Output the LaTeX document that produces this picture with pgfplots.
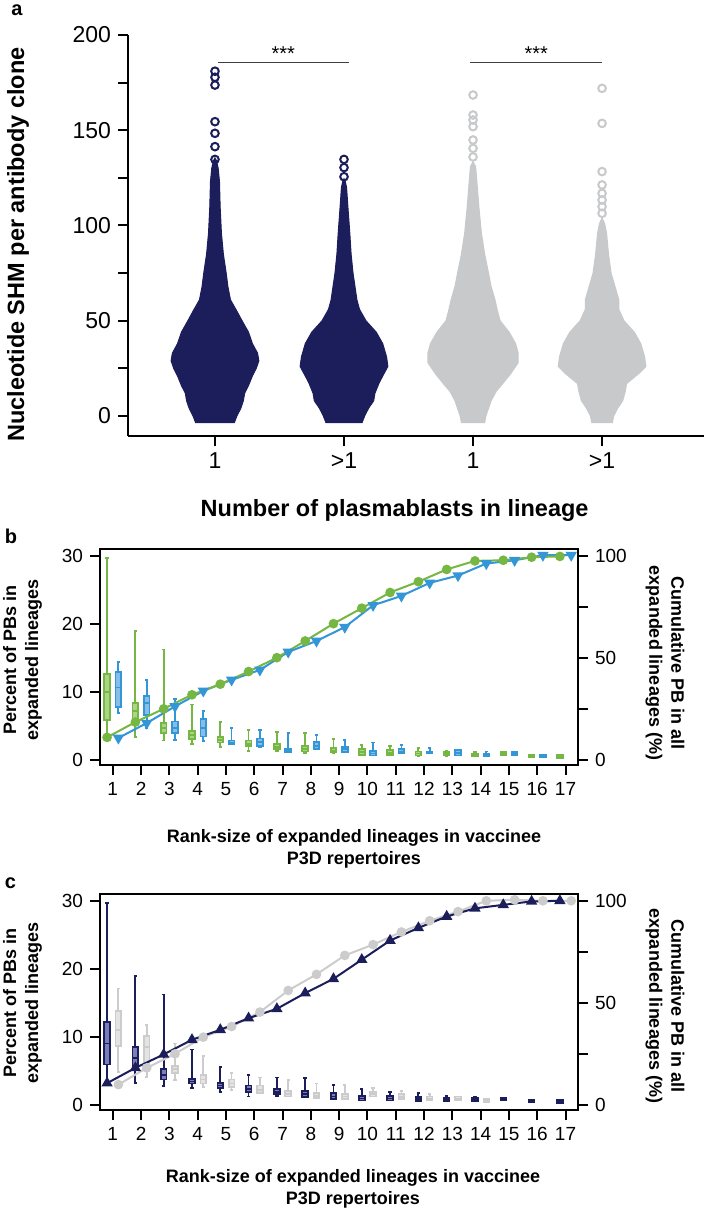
\documentclass[border=0pt]{standalone}
\usepackage{fontspec}
\setmainfont{Liberation Sans}
\usepackage{pgfplots}
\pgfplotsset{compat=1.18}
\usepgfplotslibrary{statistics}

\definecolor{navy}{RGB}{28,30,92}
\definecolor{navyl}{RGB}{122,127,182}
\definecolor{lgray}{RGB}{200,201,203}
\definecolor{cgray}{RGB}{204,204,204}
\definecolor{cgrayl}{RGB}{228,228,228}
\definecolor{grn}{RGB}{118,182,66}
\definecolor{grnl}{RGB}{170,212,135}
\definecolor{blu}{RGB}{51,150,214}
\definecolor{blul}{RGB}{135,190,232}

\pgfplotsset{
  base/.style={scale only axis, anchor=north west, tick align=outside,
    major tick length=5pt, minor tick length=5pt,
    tick style={black, line width=1pt}, axis line style={line width=1pt},
    /pgf/number format/assume math mode=true},
  rank/.style={base, width=239pt, height=108pt, xmin=0.55, xmax=17.44,
    tick label style={font=\fontsize{9.5}{11}\selectfont},
    boxplot/draw direction=y, boxplot/box extend=0.2, boxplot/whisker extend=0.12},
}

% box: style, position, low whisker, q1, median, q3, high whisker
\newcommand{\bx}[7]{\addplot[#1, line width=0.9pt, boxplot prepared={draw position=#2,
  lower whisker=#3, lower quartile=#4, median=#5, upper quartile=#6, upper whisker=#7}] coordinates {};}

\begin{document}
\begin{tikzpicture}
\useasboundingbox (0,0) rectangle (352pt,-605pt);

% ---------------- panel a
\begin{axis}[base, at={(64pt,-17.5pt)}, width=288pt, height=200.5pt,
  xmin=0.326, xmax=4.79, ymin=-10.5, ymax=200,
  axis x line*=bottom, axis y line*=left,
  xtick={1,2,3,4}, xticklabels={1,>1,1,>1},
  ytick={0,50,100,150,200}, minor ytick={25,75,125,175},
  tick label style={font=\fontsize{11.5}{13}\selectfont}]
\addplot[fill=navy, draw=navy, line width=0.5pt] coordinates {
  (1.15,-3.5) (1.17,0) (1.20,4) (1.22,8) (1.23,12) (1.26,16) (1.29,21) (1.32,25) (1.34,29)
  (1.33,33) (1.29,38) (1.26,44) (1.21,50) (1.17,55) (1.12,61) (1.10,68) (1.087,75) (1.065,85)
  (1.05,96) (1.04,110) (1.035,123) (1.025,130) (1.012,134) (1,135.5)
  (0.988,134) (0.975,130) (0.965,123) (0.96,110) (0.95,96) (0.935,85) (0.913,75) (0.90,68)
  (0.88,61) (0.83,55) (0.79,50) (0.74,44) (0.71,38) (0.67,33) (0.66,29) (0.68,25) (0.71,21)
  (0.74,16) (0.77,12) (0.78,8) (0.80,4) (0.83,0) (0.85,-3.5)} -- cycle;
\addplot[fill=navy, draw=navy, line width=0.5pt] coordinates {
  (2.14,-3.5) (2.16,0) (2.19,4) (2.23,8) (2.24,12) (2.27,17) (2.30,21) (2.34,26) (2.33,31)
  (2.30,38) (2.25,44) (2.17,50) (2.12,56) (2.10,61) (2.085,68) (2.07,75) (2.055,85) (2.045,96)
  (2.03,110) (2.02,120) (2.01,123) (2,124.5)
  (1.99,123) (1.98,120) (1.97,110) (1.955,96) (1.945,85) (1.93,75) (1.915,68) (1.90,61)
  (1.88,56) (1.83,50) (1.75,44) (1.70,38) (1.67,31) (1.66,26) (1.70,21) (1.73,17) (1.76,12)
  (1.77,8) (1.81,4) (1.84,0) (1.86,-3.5)} -- cycle;
\addplot[fill=lgray, draw=lgray, line width=0.5pt] coordinates {
  (3.09,-3.5) (3.10,0) (3.12,4) (3.14,8) (3.18,13) (3.23,17) (3.29,22) (3.35,28) (3.35,33)
  (3.33,38) (3.28,44) (3.21,50) (3.19,55) (3.17,61) (3.14,68) (3.12,75) (3.09,85) (3.065,96)
  (3.045,110) (3.03,123) (3.02,131) (3,133.5)
  (2.98,131) (2.97,123) (2.955,110) (2.935,96) (2.91,85) (2.88,75) (2.86,68) (2.83,61)
  (2.81,55) (2.79,50) (2.72,44) (2.67,38) (2.65,33) (2.65,28) (2.71,22) (2.77,17) (2.82,13)
  (2.86,8) (2.88,4) (2.90,0) (2.91,-3.5)} -- cycle;
\addplot[fill=lgray, draw=lgray, line width=0.5pt] coordinates {
  (4.08,-3.5) (4.09,0) (4.12,4) (4.16,8) (4.18,13) (4.19,17) (4.28,22) (4.34,26) (4.33,31)
  (4.30,38) (4.25,44) (4.17,50) (4.13,56) (4.13,61) (4.10,68) (4.07,75) (4.05,85) (4.035,96)
  (4.02,101) (4,104)
  (3.98,101) (3.965,96) (3.95,85) (3.93,75) (3.90,68) (3.87,61) (3.87,56) (3.83,50) (3.75,44)
  (3.70,38) (3.67,31) (3.66,26) (3.72,22) (3.81,17) (3.82,13) (3.84,8) (3.88,4) (3.91,0)
  (3.92,-3.5)} -- cycle;
% outliers
\addplot[only marks, mark=o, mark size=1.9pt, draw=navy, line width=1pt] coordinates {
  (1,181) (1,177.8) (1,173.7) (1,154.5) (1,148.4) (1,141.4) (1,134.7)
  (2,134.7) (2,130.4) (2,125.6)};
\addplot[only marks, mark=o, mark size=1.9pt, draw=lgray, line width=1pt] coordinates {
  (3,168.5) (3,158) (3,155.4) (3,151.9) (3,144.9) (3,140.5) (3,136)
  (4,172) (4,153.6) (4,128.3) (4,121.3) (4,116.9) (4,113.4) (4,109.9) (4,106.4)};
% significance
\addplot[black!75, line width=0.5pt] coordinates {(1.02,185.7) (2.04,185.7)};
\addplot[black!75, line width=0.5pt] coordinates {(2.98,185.7) (4.0,185.7)};
\node[font=\fontsize{10}{11}\selectfont] at (axis cs:1.53,190) {***};
\node[font=\fontsize{10}{11}\selectfont] at (axis cs:3.49,190) {***};
\end{axis}

\node[anchor=base west, inner sep=0, font=\fontsize{10}{12}\selectfont\bfseries] at (5.5pt,-7.5pt) {a};
\node[rotate=90, font=\fontsize{11.75}{14}\selectfont\bfseries] at (9pt,-122.25pt) {Nucleotide SHM per antibody clone};
\node[anchor=base, font=\fontsize{11.75}{14}\selectfont\bfseries] at (197.3pt,-258pt) {Number of plasmablasts in lineage};

% ---------------- panel b
\begin{axis}[rank, at={(50pt,-274.5pt)}, ymin=-0.8, ymax=31,
  xtick={1,...,17}, ytick={0,10,20,30}, xtick pos=bottom, ytick pos=left]
\bx{color=grn, fill=grnl}{0.8}{3.3}{5.8}{10.0}{12.6}{29.7}
\bx{color=grn, fill=grnl}{1.8}{3.3}{5.9}{7.1}{8.3}{18.9}
\bx{color=grn, fill=grnl}{2.8}{2.8}{3.9}{4.7}{5.4}{16.2}
\bx{color=grn, fill=grnl}{3.8}{2.3}{3.0}{3.6}{4.2}{8.1}
\bx{color=grn, fill=grnl}{4.8}{1.9}{2.5}{2.9}{3.3}{5.5}
\bx{color=grn, fill=grnl}{5.8}{1.3}{2.0}{2.3}{2.8}{4.4}
\bx{color=grn, fill=grnl}{6.8}{1.3}{1.5}{1.9}{2.3}{4.1}
\bx{color=grn, fill=grnl}{7.8}{1.0}{1.2}{1.5}{2.0}{3.9}
\bx{color=grn, fill=grnl}{8.8}{0.9}{1.1}{1.3}{1.7}{3.0}
\bx{color=grn, fill=grnl}{9.8}{0.6}{0.7}{1.1}{1.5}{2.2}
\bx{color=grn, fill=grnl}{10.8}{0.6}{0.7}{1.0}{1.4}{2.0}
\bx{color=grn, fill=grnl}{11.8}{0.5}{0.6}{0.9}{1.2}{1.7}
\bx{color=grn, fill=grnl}{12.8}{0.5}{0.6}{0.8}{1.1}{1.3}
\bx{color=grn, fill=grnl}{13.8}{0.5}{0.5}{0.7}{0.9}{1.1}
\bx{color=grn, fill=grnl}{14.8}{0.6}{0.6}{0.8}{1.1}{1.1}
\bx{color=grn, fill=grnl}{15.8}{0.3}{0.3}{0.5}{0.7}{0.7}
\bx{color=grn, fill=grnl}{16.8}{0.15}{0.15}{0.4}{0.7}{0.7}
\bx{color=blu, fill=blul}{1.2}{6.8}{7.7}{10.6}{12.9}{14.4}
\bx{color=blu, fill=blul}{2.2}{4.6}{6.6}{8.3}{9.4}{11.7}
\bx{color=blu, fill=blul}{3.2}{2.9}{3.9}{4.7}{5.6}{8.9}
\bx{color=blu, fill=blul}{4.2}{2.7}{3.4}{4.7}{6.0}{7.1}
\bx{color=blu, fill=blul}{5.2}{2.3}{2.3}{2.5}{2.8}{4.7}
\bx{color=blu, fill=blul}{6.2}{1.8}{2.0}{2.6}{3.1}{4.4}
\bx{color=blu, fill=blul}{7.2}{1.1}{1.1}{1.3}{1.6}{3.9}
\bx{color=blu, fill=blul}{8.2}{1.5}{1.5}{2.0}{2.6}{3.6}
\bx{color=blu, fill=blul}{9.2}{1.1}{1.1}{1.5}{1.9}{2.9}
\bx{color=blu, fill=blul}{10.2}{0.6}{0.6}{0.9}{1.3}{2.5}
\bx{color=blu, fill=blul}{11.2}{0.9}{0.9}{1.1}{1.5}{2.1}
\bx{color=blu, fill=blul}{12.2}{0.9}{0.9}{1.0}{1.2}{1.7}
\bx{color=blu, fill=blul}{13.2}{0.6}{0.6}{1.0}{1.4}{1.4}
\bx{color=blu, fill=blul}{14.2}{0.5}{0.5}{0.6}{0.8}{1.2}
\bx{color=blu, fill=blul}{15.2}{0.6}{0.6}{0.8}{1.1}{1.1}
\bx{color=blu, fill=blul}{16.2}{0.3}{0.3}{0.5}{0.7}{0.7}
\end{axis}
\begin{axis}[rank, at={(50pt,-274.5pt)}, ymin=-2.667, ymax=103.33,
  axis x line=none, axis y line*=right, ytick={0,50,100}, minor ytick={25,75}]
\addplot[blu, line width=1pt, mark=triangle*, mark size=2.3pt,
  mark options={rotate=180, fill=blu, draw=blu}] coordinates {
  (1.2,10.6) (2.2,17.9) (3.2,26.1) (4.2,33.7) (5.2,39.1) (6.2,44.0) (7.2,52.8) (8.2,58.2)
  (9.2,65.0) (10.2,75.7) (11.2,80.3) (12.2,86.7) (13.2,90.3) (14.2,96.2) (15.2,97.8)
  (16.2,100.3) (17.2,100.3)};
\addplot[grn, line width=1pt, mark=*, mark size=1.9pt, mark options={fill=grn, draw=grn}] coordinates {
  (0.8,10.9) (1.8,18.4) (2.8,24.9) (3.8,31.8) (4.8,37.0) (5.8,43.2) (6.8,50.0) (7.8,58.2)
  (8.8,66.7) (9.8,74.3) (10.8,82.0) (11.8,87.3) (12.8,93.3) (13.8,97.5) (14.8,97.8)
  (15.8,99.3) (16.8,99.7)};
\end{axis}

\node[anchor=base west, inner sep=0, font=\fontsize{10}{12}\selectfont\bfseries] at (2.25pt,-271.5pt) {b};
\node[rotate=90, align=center, font=\fontsize{9}{11}\selectfont\bfseries] at (11.25pt,-330pt) {Percent of PBs in\\expanded lineages};
\node[rotate=-90, align=center, font=\fontsize{9}{11}\selectfont\bfseries] at (332.5pt,-331.5pt) {Cumulative PB in all\\expanded lineages (\%)};
\node[align=center, font=\fontsize{9}{11}\selectfont\bfseries] at (177pt,-424.5pt) {Rank-size of expanded lineages in vaccinee\\P3D repertoires};

% ---------------- panel c
\begin{axis}[rank, at={(50pt,-447pt)}, ymin=-0.8, ymax=31,
  xtick={1,...,17}, ytick={0,10,20,30}, xtick pos=bottom, ytick pos=left]
\bx{color=cgray, fill=cgrayl}{1.2}{4.8}{8.6}{11.0}{13.8}{17.1}
\bx{color=cgray, fill=cgrayl}{2.2}{4.1}{5.5}{8.5}{10.1}{11.7}
\bx{color=cgray, fill=cgrayl}{3.2}{3.6}{4.6}{5.2}{5.7}{9.0}
\bx{color=cgray, fill=cgrayl}{4.2}{2.6}{3.1}{3.7}{4.3}{7.1}
\bx{color=cgray, fill=cgrayl}{5.2}{2.2}{2.6}{3.1}{3.7}{4.7}
\bx{color=cgray, fill=cgrayl}{6.2}{1.7}{1.7}{2.2}{2.8}{4.0}
\bx{color=cgray, fill=cgrayl}{7.2}{1.2}{1.2}{1.6}{2.0}{3.6}
\bx{color=cgray, fill=cgrayl}{8.2}{1.0}{1.0}{1.3}{1.7}{3.1}
\bx{color=cgray, fill=cgrayl}{9.2}{0.8}{0.8}{1.2}{1.6}{2.9}
\bx{color=cgray, fill=cgrayl}{10.2}{1.2}{1.2}{1.5}{1.8}{2.4}
\bx{color=cgray, fill=cgrayl}{11.2}{0.8}{0.8}{1.1}{1.5}{2.0}
\bx{color=cgray, fill=cgrayl}{12.2}{0.7}{0.7}{0.9}{1.2}{1.6}
\bx{color=cgray, fill=cgrayl}{13.2}{0.7}{0.7}{0.9}{1.2}{1.2}
\bx{color=cgray, fill=cgrayl}{14.2}{0.35}{0.35}{0.55}{0.8}{0.8}
\bx{color=navy, fill=navyl}{0.8}{3.3}{5.9}{9.0}{12.2}{29.7}
\bx{color=navy, fill=navyl}{1.8}{3.2}{5.6}{6.8}{8.5}{18.9}
\bx{color=navy, fill=navyl}{2.8}{2.7}{3.7}{4.4}{5.2}{16.2}
\bx{color=navy, fill=navyl}{3.8}{2.4}{3.1}{3.4}{3.8}{8.1}
\bx{color=navy, fill=navyl}{4.8}{1.9}{2.5}{2.8}{3.2}{5.5}
\bx{color=navy, fill=navyl}{5.8}{1.2}{1.9}{2.3}{2.8}{4.4}
\bx{color=navy, fill=navyl}{6.8}{1.3}{1.5}{1.9}{2.3}{4.0}
\bx{color=navy, fill=navyl}{7.8}{1.1}{1.1}{1.5}{2.0}{3.9}
\bx{color=navy, fill=navyl}{8.8}{0.8}{0.8}{1.2}{1.7}{2.9}
\bx{color=navy, fill=navyl}{9.8}{0.6}{0.6}{0.9}{1.3}{2.3}
\bx{color=navy, fill=navyl}{10.8}{0.6}{0.6}{0.9}{1.3}{1.9}
\bx{color=navy, fill=navyl}{11.8}{0.5}{0.5}{0.8}{1.1}{1.7}
\bx{color=navy, fill=navyl}{12.8}{0.45}{0.45}{0.7}{1.0}{1.3}
\bx{color=navy, fill=navyl}{13.8}{0.5}{0.5}{0.7}{1.0}{1.2}
\bx{color=navy, fill=navyl}{14.8}{0.6}{0.6}{0.8}{1.0}{1.0}
\bx{color=navy, fill=navyl}{15.8}{0.3}{0.3}{0.5}{0.7}{0.7}
\bx{color=navy, fill=navyl}{16.8}{0.2}{0.2}{0.45}{0.7}{0.7}
\end{axis}
\begin{axis}[rank, at={(50pt,-447pt)}, ymin=-2.667, ymax=103.33,
  axis x line=none, axis y line*=right, ytick={0,50,100}, minor ytick={25,75}]
\addplot[cgray, line width=1pt, mark=*, mark size=1.9pt, mark options={fill=cgray, draw=cgray}] coordinates {
  (1.2,9.8) (2.2,18.0) (3.2,24.9) (4.2,33.1) (5.2,38.3) (6.2,45.4) (7.2,56.0) (8.2,63.9)
  (9.2,73.2) (10.2,78.5) (11.2,84.7) (12.2,90.2) (13.2,94.7) (14.2,100) (15.2,100.5)
  (16.2,100) (17.2,100)};
\addplot[navy, line width=1pt, mark=triangle*, mark size=2.3pt, mark options={fill=navy, draw=navy}] coordinates {
  (0.8,10.5) (1.8,18.0) (2.8,24.6) (3.8,31.8) (4.8,36.7) (5.8,42.4) (6.8,47.0) (7.8,54.7)
  (8.8,61.7) (9.8,71.1) (10.8,80.5) (11.8,86.7) (12.8,92.3) (13.8,96.3) (14.8,98.0)
  (15.8,99.7) (16.8,100)};
\end{axis}

\node[anchor=base west, inner sep=0, font=\fontsize{10}{12}\selectfont\bfseries] at (2.25pt,-444pt) {c};
\node[rotate=90, align=center, font=\fontsize{9}{11}\selectfont\bfseries] at (11.25pt,-501.5pt) {Percent of PBs in\\expanded lineages};
\node[rotate=-90, align=center, font=\fontsize{9}{11}\selectfont\bfseries] at (332.5pt,-503pt) {Cumulative PB in all\\expanded lineages (\%)};
\node[align=center, font=\fontsize{9}{11}\selectfont\bfseries] at (176.5pt,-594.5pt) {Rank-size of expanded lineages in vaccinee\\P3D repertoires};
\end{tikzpicture}
\end{document}
